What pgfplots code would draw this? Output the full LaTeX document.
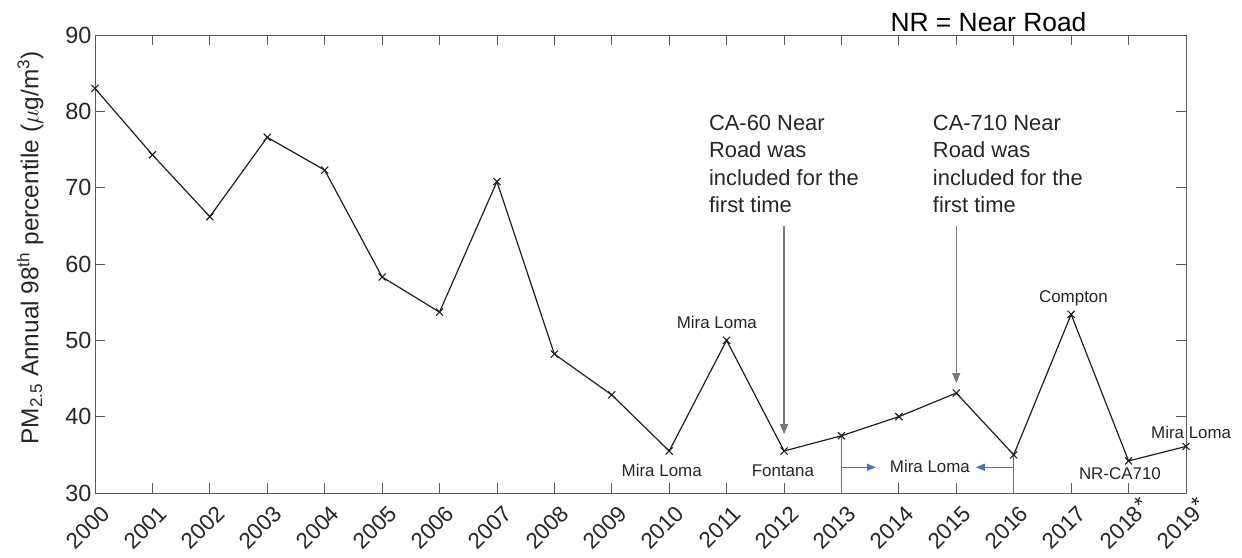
\documentclass[border=0pt]{standalone}
\usepackage{pgfplots}
\pgfplotsset{compat=1.18}
\usepackage{fontspec}
\setmainfont{Liberation Sans}
\usetikzlibrary{arrows.meta}
\definecolor{axgray}{RGB}{90,90,90}
\definecolor{txtgray}{RGB}{38,38,38}
\definecolor{arrgray}{RGB}{120,120,120}
\definecolor{myblue}{RGB}{68,114,196}
\newcommand{\supast}{\rlap{\smash{\kern0.04em\raisebox{0.12em}{*}}}}
\begin{document}
\begin{tikzpicture}[x=1bp,y=1bp]
\useasboundingbox (-95,-65) rectangle (1147,493);
\begin{axis}[
  at={(0,0)}, anchor=south west,
  scale only axis, width=1091bp, height=458bp,
  xmin=2000, xmax=2019, ymin=30, ymax=90,
  xtick={2000,2001,2002,2003,2004,2005,2006,2007,2008,2009,2010,2011,2012,2013,2014,2015,2016,2017,2018,2019},
  xticklabels={2000,2001,2002,2003,2004,2005,2006,2007,2008,2009,2010,2011,2012,2013,2014,2015,2016,2017,2018\supast,2019\supast},
  ytick={30,40,50,60,70,80,90},
  /pgf/number format/assume math mode=true,
  /pgf/number format/1000 sep={},
  yticklabel style={font=\fontsize{23.5}{28}\selectfont, text=txtgray},
  xticklabel style={font=\fontsize{22.5}{27}\selectfont, text=txtgray, xshift=5bp, yshift=-11bp, rotate=45, anchor=north east, inner sep=0pt},
  major tick length=10bp,
  axis line style={axgray, line width=0.8bp},
  every tick/.style={axgray, line width=0.8bp},
  ylabel={PM\textsubscript{2.5} Annual 98\textsuperscript{th} percentile ($\mu$g/m\textsuperscript{3})},
  ylabel style={font=\fontsize{24.5}{28}\selectfont, text=txtgray, at={(axis description cs:-0.047,0.535)}, anchor=south, rotate=0, inner sep=0pt},
  clip=false,
]
\addplot[black!88, line width=1.2bp, mark=x, mark size=5bp, mark options={line width=1.1bp}] coordinates {
 (2000,83.0) (2001,74.3) (2002,66.2) (2003,76.6) (2004,72.3)
 (2005,58.3) (2006,53.7) (2007,70.8) (2008,48.2) (2009,42.85)
 (2010,35.5) (2011,50.0) (2012,35.5) (2013,37.5) (2014,40.0)
 (2015,43.1) (2016,35.0) (2017,53.4) (2018,34.2) (2019,36.1)
};
% gray arrows
\draw[arrgray, line width=1.1bp, -{Triangle[length=10bp,width=8bp]}] (axis cs:2012,64.95) -- (axis cs:2012,37.7);
\draw[arrgray, line width=1.1bp, -{Triangle[length=10bp,width=8bp]}] (axis cs:2015,64.95) -- (axis cs:2015,44.4);
% blue lines and arrows
\draw[myblue, line width=1.1bp] (axis cs:2013,37.5) -- (axis cs:2013,30);
\draw[myblue, line width=1.1bp] (axis cs:2016,35.0) -- (axis cs:2016,30);
\draw[myblue, line width=1.1bp, -{Triangle[length=9bp,width=7bp]}] (axis cs:2013,33.37) -- (axis cs:2013.6,33.37);
\draw[myblue, line width=1.1bp, -{Triangle[length=9bp,width=7bp]}] (axis cs:2016,33.37) -- (axis cs:2015.34,33.37);
% annotation texts
\node[anchor=north west, inner sep=0pt, align=left, text=txtgray, font=\fontsize{22}{27.5}\selectfont] at (axis cs:2010.69,79.55) {CA-60 Near\\Road was\\included for the\\first time};
\node[anchor=north west, inner sep=0pt, align=left, text=txtgray, font=\fontsize{22}{27.5}\selectfont] at (axis cs:2014.59,79.55) {CA-710 Near\\Road was\\included for the\\first time};
\node[anchor=base, inner sep=0pt, text=black, font=\fontsize{26.5}{30}\selectfont] at (axis cs:2015.56,90.52) {NR = Near Road};
% small labels
\begin{scope}[every node/.style={anchor=base, inner sep=0pt, text=txtgray, font=\fontsize{17}{20}\selectfont}]
\node at (axis cs:2010.83,51.5) {Mira Loma};
\node at (axis cs:2009.87,32.1) {Mira Loma};
\node at (axis cs:2011.98,32.1) {Fontana};
\node at (axis cs:2017.04,54.95) {Compton};
\node at (axis cs:2014.54,32.7) {Mira Loma};
\node at (axis cs:2017.85,31.75) {NR-CA710};
\node at (axis cs:2019.09,37.2) {Mira Loma};
\end{scope}
\end{axis}
\end{tikzpicture}
\end{document}
